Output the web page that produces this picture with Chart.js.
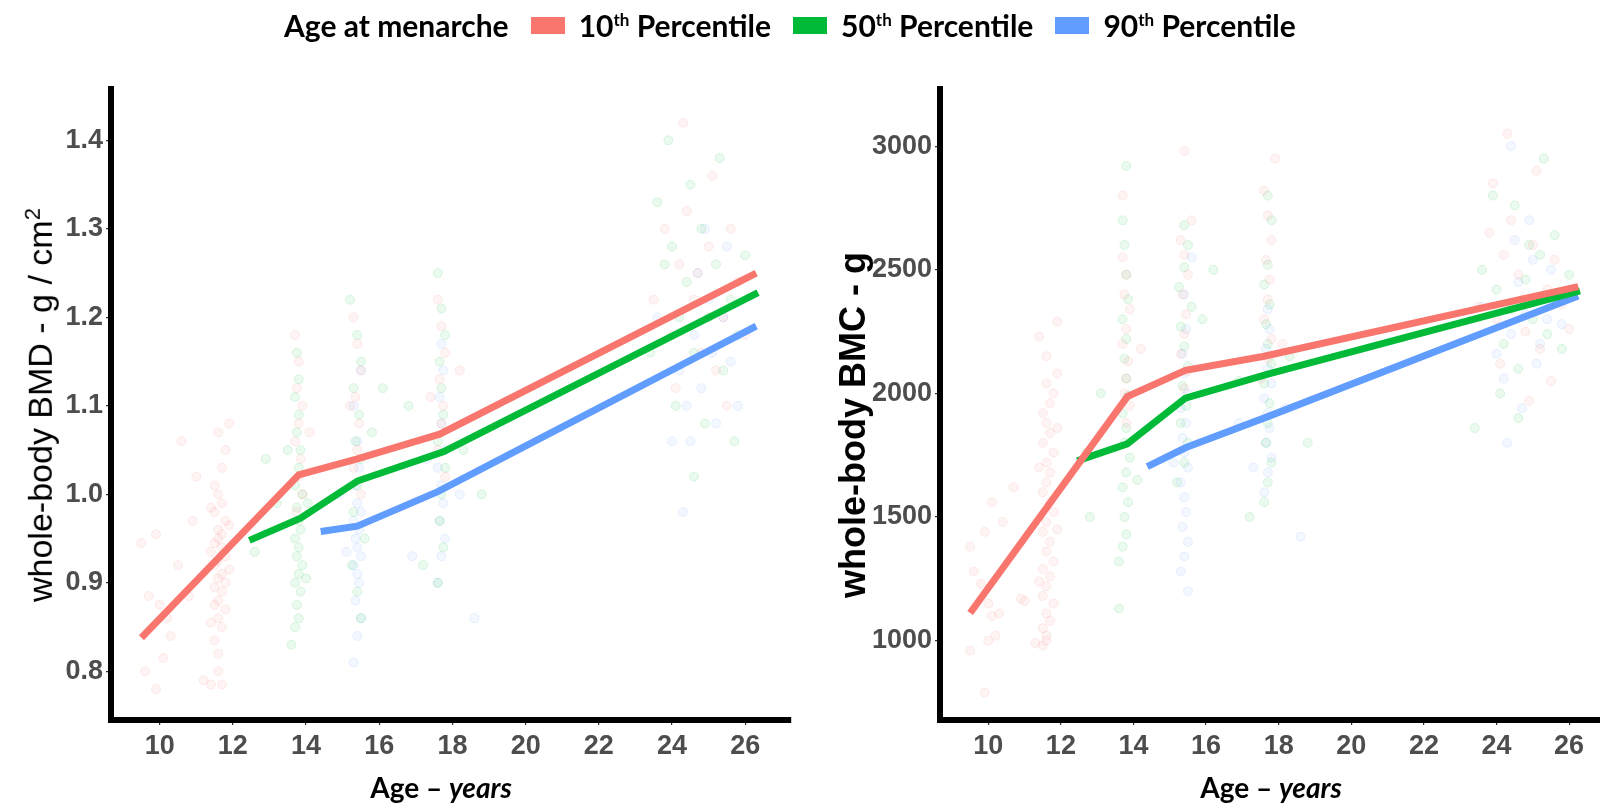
<!DOCTYPE html>
<html>
<head>
<meta charset="utf-8">
<script src="https://cdn.jsdelivr.net/npm/chart.js@4.4.0/dist/chart.umd.min.js"></script>
<style>
  html, body { margin: 0; padding: 0; background: #fff; overflow: hidden; }
  #wrap { position: relative; width: 1600px; height: 806px; overflow: hidden; }
  canvas { position: absolute; top: 0; }
  #bmd { left: 0; }
  #bmc { left: 800px; }
  .legend { position: absolute; top: 6px; left: 284px; height: 38px; display: flex; align-items: center;
            font-family: Lato, "Liberation Sans", sans-serif; font-weight: bold; font-size: 30px; color: #000; white-space: nowrap; }
  .legend .key { display: inline-block; width: 34px; height: 17px; margin: 0 14px 0 22px; }
  .legend sup { font-size: 17px; }
  .ytitle { position: absolute; transform: translate(-50%, -50%) rotate(-90deg); white-space: nowrap;
            font-family: "Liberation Sans", Arial, sans-serif; font-size: 34px; color: #000; }
  .ytitle sup { font-size: 22px; }
  .xtitle { position: absolute; top: 787px; transform: translate(-50%, -50%); white-space: nowrap;
            font-family: Lato, "Liberation Sans", sans-serif; font-weight: bold; font-size: 28px; color: #000; }
</style>
</head>
<body>
<div id="wrap">
  <canvas id="bmd" width="800" height="806"></canvas>
  <canvas id="bmc" width="820" height="806"></canvas>

  <div class="legend">
    <span>Age at menarche</span>
    <span class="key" style="background:#F8766D"></span><span>10<sup>th</sup> Percentile</span>
    <span class="key" style="background:#00BA38"></span><span>50<sup>th</sup> Percentile</span>
    <span class="key" style="background:#619CFF"></span><span>90<sup>th</sup> Percentile</span>
  </div>

  <div class="ytitle" style="left:40px; top:405px;">whole-body BMD - g / cm<sup>2</sup></div>
  <div class="ytitle" style="left:853px; top:425px; font-weight:bold; font-size:36px;">whole-body BMC - g</div>
  <div class="xtitle" style="left:441px;">Age – <i>years</i></div>
  <div class="xtitle" style="left:1271px;">Age – <i>years</i></div>
</div>

<script>
// Tick labels
const ageTicks = [10, 12, 14, 16, 18, 20, 22, 24, 26];
const bmdTicks = [0.8, 0.9, 1.0, 1.1, 1.2, 1.3, 1.4];
const bmcTicks = [1000, 1500, 2000, 2500, 3000];

// Fitted lines: ages and values for each percentile of age at menarche
const ageP10 = [9.5, 13.8, 15.4, 17.65, 26.3];
const ageP50 = [12.45, 13.85, 15.4, 17.75, 26.35];
const ageP90 = [14.4, 15.4, 17.6, 26.3];
const bmdP10 = [0.838, 1.022, 1.040, 1.068, 1.250];
const bmdP50 = [0.948, 0.973, 1.015, 1.048, 1.228];
const bmdP90 = [0.958, 0.964, 1.003, 1.190];
const bmcAgeP10 = [9.5, 13.83, 15.43, 17.6, 26.25];
const bmcAgeP50 = [12.45, 13.83, 15.43, 17.7, 26.3];
const bmcAgeP90 = [14.38, 15.43, 17.7, 26.25];
const bmcP10 = [1112, 1987, 2093, 2150, 2432];
const bmcP50 = [1727, 1796, 1981, 2078, 2415];
const bmcP90 = [1704, 1780, 1906, 2394];

const bmdPtsP10 = [
  [9.6,0.80],[9.9,0.78],[10.1,0.815],[10.2,0.86],[10.3,0.84],[10.0,0.875],[9.7,0.885],[10.8,0.885],[9.5,0.945],
  [9.9,0.955],[10.5,0.92],[10.9,0.97],[11.0,1.02],[10.6,1.06],[11.2,0.79],[11.4,0.785],[11.7,0.785],
  [11.6,0.82],[11.5,0.835],[11.7,0.85],[11.6,0.86],[11.8,0.87],[11.5,0.875],[11.6,0.88],[11.7,0.89],[11.5,0.895],
  [11.8,0.90],[11.6,0.905],[11.7,0.91],[11.5,0.92],[11.6,0.925],[11.8,0.93],[11.7,0.94],[11.5,0.945],[11.6,0.95],
  [11.7,0.955],[11.6,0.96],[11.8,0.97],[11.5,0.98],[11.7,0.99],[11.6,1.00],[11.5,1.01],[11.7,1.03],[11.8,1.05],
  [11.6,1.07],[11.9,1.08],[11.6,0.80],[11.4,0.855],[11.9,0.915],[11.4,0.935],[11.9,0.965],[11.4,0.985],
  [13.7,1.18],[13.8,1.15],[13.75,1.12],[13.9,1.10],[13.8,1.08],[13.7,1.06],[13.85,1.04],[13.8,1.02],[13.9,1.00],
  [13.75,0.98],[14.1,1.07],
  [15.3,1.20],[15.4,1.17],[15.5,1.14],[15.35,1.11],[15.45,1.08],[15.4,1.05],[15.3,1.03],[15.5,1.00],[15.2,1.10],
  [17.6,1.22],[17.7,1.19],[17.8,1.16],[17.65,1.13],[17.75,1.10],[17.7,1.08],[17.6,1.05],[17.8,1.02],[18.2,1.14],[17.4,1.11],
  [23.8,1.30],[24.2,1.26],[24.6,1.22],[25.0,1.28],[25.4,1.20],[25.8,1.24],[24.0,1.18],[24.4,1.32],[24.8,1.16],
  [25.2,1.14],[25.6,1.30],[26.0,1.18],[24.3,1.42],[25.1,1.36],[23.5,1.22],[24.7,1.25],[25.5,1.10],[24.1,1.12]
];
const bmdPtsP50 = [
  [13.6,0.83],[13.7,0.85],[13.8,0.86],[13.75,0.875],[13.85,0.89],[13.7,0.90],[13.8,0.91],[13.9,0.92],[13.75,0.93],
  [13.8,0.94],[13.7,0.95],[13.85,0.96],[13.8,0.97],[13.75,0.985],[13.9,1.00],[13.7,1.01],[13.8,1.03],[13.85,1.05],
  [13.75,1.07],[13.8,1.09],[13.7,1.11],[13.8,1.13],[13.75,1.16],[14.0,0.905],[14.05,0.99],[13.5,1.05],[12.6,0.935],
  [12.9,1.04],[13.2,0.99],
  [15.2,1.22],[15.4,1.18],[15.5,1.15],[15.3,1.12],[15.45,1.09],[15.35,1.06],[15.5,1.04],[15.4,1.01],[15.3,0.98],
  [15.6,0.95],[15.25,0.92],[15.4,0.89],[15.5,0.86],[15.8,1.07],[16.1,1.12],
  [17.6,1.25],[17.7,1.21],[17.8,1.18],[17.65,1.15],[17.7,1.12],[17.75,1.09],[17.6,1.06],[17.8,1.03],[17.7,1.00],
  [17.65,0.97],[17.75,0.94],[17.6,0.90],[18.3,1.05],[18.8,1.00],[17.2,0.92],[16.8,1.10],
  [23.6,1.33],[24.0,1.28],[24.4,1.24],[24.8,1.30],[25.2,1.26],[25.6,1.22],[26.0,1.27],[24.2,1.20],[24.6,1.16],
  [25.0,1.20],[25.4,1.14],[25.8,1.18],[23.9,1.40],[24.5,1.35],[25.3,1.38],[23.4,1.16],[24.1,1.10],[24.9,1.08],
  [25.7,1.06],[24.6,1.02],[23.8,1.26]
];
const bmdPtsP90 = [
  [15.3,0.81],[15.4,0.84],[15.5,0.86],[15.35,0.88],[15.45,0.90],[15.4,0.91],[15.3,0.92],[15.5,0.93],[15.4,0.94],
  [15.35,0.95],[15.45,0.96],[15.3,0.97],[15.5,0.98],[15.4,0.99],[15.35,1.01],[15.45,1.03],[15.4,1.06],[15.3,1.10],
  [15.5,1.14],[15.1,0.935],[14.9,1.00],
  [17.6,0.90],[17.7,0.93],[17.8,0.95],[17.65,0.97],[17.75,0.99],[17.7,1.01],[17.6,1.03],[17.8,1.05],[17.7,1.08],
  [17.65,1.11],[17.75,1.14],[17.7,1.17],[18.2,1.00],[17.3,1.04],[18.6,0.86],[16.9,0.93],
  [24.0,1.06],[24.4,1.10],[24.8,1.12],[25.2,1.08],[25.6,1.15],[24.6,1.18],[25.0,1.22],[25.4,1.20],[24.2,1.14],
  [24.7,1.25],[25.8,1.10],[24.5,1.06],[25.1,1.16],[23.6,1.20],[24.9,1.30],[25.5,1.28],[24.3,0.98]
];
const bmcPtsP10 = [
  [9.5,960],[9.9,790],[10.0,1000],[10.1,1100],[10.2,1020],[10.3,1110],[9.6,1280],[9.8,1230],[10.0,1150],[9.5,1380],
  [9.9,1440],[10.1,1560],[10.4,1480],[10.7,1620],[10.9,1170],[11.0,1160],[11.3,990],[11.5,980],[11.6,1020],
  [11.6,1000],[11.5,1050],[11.7,1080],[11.6,1110],[11.8,1150],[11.5,1180],[11.6,1220],[11.7,1260],[11.5,1290],
  [11.8,1320],[11.6,1360],[11.7,1400],[11.5,1440],[11.6,1480],[11.8,1520],[11.7,1560],[11.5,1600],[11.6,1640],
  [11.7,1680],[11.6,1720],[11.8,1760],[11.5,1800],[11.7,1840],[11.6,1880],[11.5,1920],[11.7,1960],[11.8,2000],
  [11.6,2040],[11.9,2080],[11.6,2150],[11.4,2230],[11.9,2290],[11.4,1240],[11.9,1450],[11.4,1700],[11.9,1860],
  [13.7,2550],[13.8,2480],[13.75,2400],[13.9,2340],[13.8,2260],[13.7,2200],[13.85,2130],[13.8,2060],[13.75,2000],
  [13.9,1950],[13.8,1880],[13.7,2800],[14.2,2180],
  [15.3,2620],[15.4,2560],[15.5,2480],[15.35,2400],[15.45,2320],[15.4,2240],[15.3,2160],[15.5,2090],[15.4,2020],
  [15.6,2700],[15.4,2980],
  [17.6,2820],[17.7,2720],[17.8,2620],[17.65,2540],[17.75,2460],[17.7,2380],[17.6,2300],[17.8,2220],[17.7,2140],
  [17.5,2060],[18.1,2200],[17.9,2950],
  [23.8,2650],[24.2,2560],[24.6,2480],[25.0,2600],[25.4,2420],[25.8,2360],[24.0,2300],[24.4,2700],[24.8,2250],
  [25.2,2180],[25.6,2540],[26.0,2260],[24.3,3050],[25.1,2900],[23.5,2350],[24.7,2380],[25.5,2050],[24.1,2120],
  [24.9,1970],[23.9,2850]
];
const bmcPtsP50 = [
  [13.6,1320],[13.7,1380],[13.8,1430],[13.75,1500],[13.85,1560],[13.7,1620],[13.8,1680],[13.9,1740],[13.75,1800],
  [13.8,1860],[13.7,1920],[13.85,1990],[13.8,2060],[13.75,2140],[13.8,2220],[13.7,2300],[13.85,2380],[13.8,2480],
  [13.75,2600],[13.7,2700],[13.8,2920],[13.6,1130],[14.1,1650],[12.7,1760],[12.8,1500],[13.1,2000],
  [15.2,1640],[15.4,1720],[15.5,1800],[15.3,1880],[15.45,1950],[15.35,2030],[15.5,2110],[15.4,2190],[15.3,2270],
  [15.6,2350],[15.25,2430],[15.4,2510],[15.5,2600],[15.4,2680],[15.9,2300],[16.2,2500],
  [17.6,1560],[17.7,1640],[17.8,1720],[17.65,1800],[17.7,1880],[17.75,1960],[17.6,2040],[17.8,2120],[17.7,2200],
  [17.65,2280],[17.75,2360],[17.6,2440],[17.7,2520],[17.8,2700],[17.7,2800],[18.3,2150],[18.8,1800],[17.2,1500],
  [16.9,2050],
  [23.6,2500],[24.0,2420],[24.4,2340],[24.8,2460],[25.2,2560],[25.6,2640],[26.0,2480],[24.2,2200],[24.6,2100],
  [25.0,2300],[25.4,2240],[25.8,2180],[23.9,2800],[24.5,2760],[25.3,2950],[23.4,1860],[24.1,2000],[24.9,2600],
  [25.7,2400],[24.6,1900]
];
const bmcPtsP90 = [
  [15.3,1280],[15.4,1340],[15.5,1400],[15.35,1460],[15.45,1520],[15.4,1580],[15.3,1640],[15.5,1700],[15.4,1760],
  [15.35,1820],[15.45,1880],[15.3,1940],[15.5,2000],[15.4,2080],[15.35,2160],[15.45,2260],[15.4,2400],[15.6,2550],
  [15.5,1200],[15.1,1720],
  [17.6,1600],[17.7,1680],[17.8,1740],[17.65,1800],[17.75,1860],[17.7,1920],[17.6,1980],[17.8,2040],[17.7,2100],
  [17.65,2180],[17.75,2260],[17.7,2340],[18.2,1940],[17.3,1700],[18.6,1420],[16.9,1880],
  [24.0,2160],[24.4,2240],[24.8,2320],[25.2,2200],[25.6,2380],[24.6,2450],[25.0,2540],[25.4,2300],[24.2,2060],
  [24.7,1940],[25.8,2280],[24.5,2620],[25.1,2120],[23.6,2350],[24.9,2700],[25.5,2500],[24.3,1800],[24.4,3000]
];

const colors = { p10: '248,118,109', p50: '0,186,56', p90: '97,156,255' };

function lineSet(ages, vals, rgb) {
  return {
    data: ages.map((a, i) => ({ x: a, y: vals[i] })),
    showLine: true, borderColor: 'rgb(' + rgb + ')', borderWidth: 7,
    pointRadius: 0, tension: 0, order: 0, borderCapStyle: 'butt'
  };
}

function pointSet(pts, rgb) {
  return {
    data: pts, pointRadius: 4.5, borderWidth: 1, order: 1,
    backgroundColor: 'rgba(' + rgb + ',0.08)', borderColor: 'rgba(' + rgb + ',0.13)'
  };
}

function makeChart(id, cfg) {
  const tickFont = { family: '"Liberation Sans", Arial, sans-serif', weight: 'bold', size: 27 };
  new Chart(document.getElementById(id), {
    type: 'scatter',
    data: { datasets: cfg.datasets },
    options: {
      responsive: false,
      animation: false,
      layout: { padding: { top: 89, right: cfg.padRight, bottom: 0, left: 0 } },
      plugins: { legend: { display: false }, tooltip: { enabled: false } },
      scales: {
        x: {
          type: 'linear', min: 8.67, max: 27.25,
          afterBuildTicks: s => { s.ticks = ageTicks.map(v => ({ value: v })); },
          afterFit: s => { s.height = 86; },
          border: { display: true, color: '#000', width: 6 },
          grid: { drawOnChartArea: false, color: '#333', tickLength: 5, lineWidth: 1.2 },
          ticks: { font: tickFont, color: '#4d4d4d', padding: 5, maxRotation: 0, autoSkip: false }
        },
        y: {
          type: 'linear', min: cfg.yMin, max: cfg.yMax,
          afterBuildTicks: s => { s.ticks = cfg.yTicks.map(v => ({ value: v })); },
          afterFit: s => { s.width = cfg.yWidth; },
          border: { display: true, color: '#000', width: 6 },
          grid: { drawOnChartArea: false, color: '#333', tickLength: 5, lineWidth: 1.2 },
          ticks: { font: tickFont, color: '#4d4d4d', padding: 3, autoSkip: false, callback: cfg.fmt }
        }
      }
    }
  });
}

makeChart('bmd', {
  yMin: 0.745, yMax: 1.458, yTicks: bmdTicks, yWidth: 111, padRight: 9,
  fmt: v => v.toFixed(1),
  datasets: [
    lineSet(ageP10, bmdP10, colors.p10),
    lineSet(ageP50, bmdP50, colors.p50),
    lineSet(ageP90, bmdP90, colors.p90),
    pointSet(bmdPtsP10, colors.p10),
    pointSet(bmdPtsP50, colors.p50),
    pointSet(bmdPtsP90, colors.p90)
  ]
});

makeChart('bmc', {
  yMin: 679, yMax: 3231, yTicks: bmcTicks, yWidth: 140, padRight: 0,
  fmt: v => String(v),
  datasets: [
    lineSet(bmcAgeP10, bmcP10, colors.p10),
    lineSet(bmcAgeP50, bmcP50, colors.p50),
    lineSet(bmcAgeP90, bmcP90, colors.p90),
    pointSet(bmcPtsP10, colors.p10),
    pointSet(bmcPtsP50, colors.p50),
    pointSet(bmcPtsP90, colors.p90)
  ]
});
</script>
</body>
</html>
